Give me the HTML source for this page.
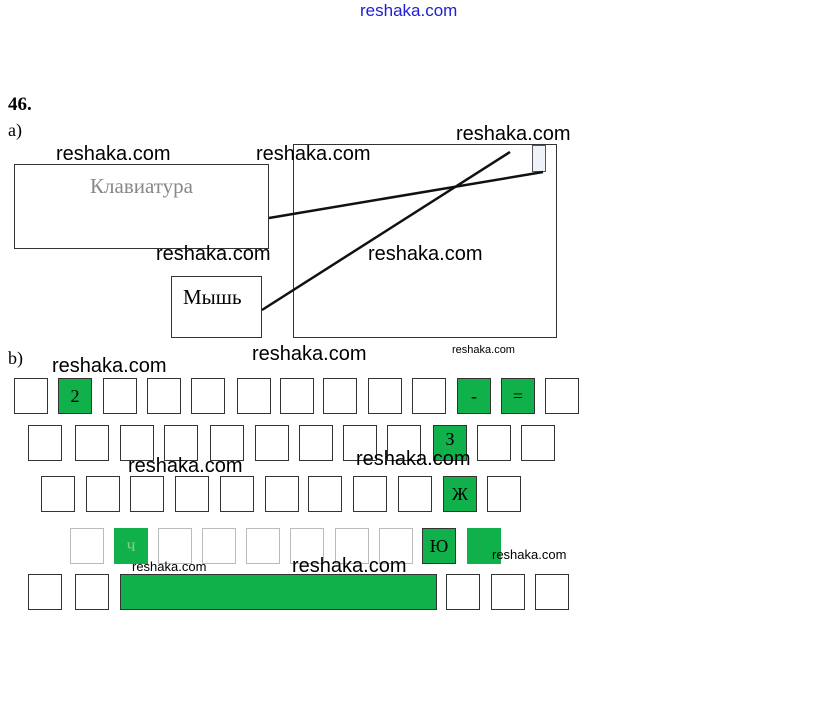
<!DOCTYPE html>
<html><head><meta charset="utf-8"><style>
body{margin:0;width:815px;height:708px;background:#fff;position:relative;overflow:hidden;font-family:"Liberation Serif",serif}
.a{position:absolute}
.k{position:absolute;width:34px;height:36px;border:1px solid #333;box-sizing:border-box;font-size:18px;text-align:center;line-height:34px}
.g{background:#10b04a}
.w{position:absolute;font-family:"Liberation Sans",sans-serif;font-size:20px;color:#000;white-space:nowrap}
.s{font-size:13px}
</style></head><body>
<div class="w" style="left:360px;top:1px;font-size:17px;color:#2020d0">reshaka.com</div>
<div class="a" style="left:8px;top:94px;font-weight:bold;font-size:19px">46.</div>
<div class="a" style="left:8px;top:120px;font-size:18px">a)</div>
<div class="a" style="left:14px;top:164px;width:255px;height:85px;border:1px solid #333;box-sizing:border-box;text-align:center;font-size:21px;color:#888;padding-top:9px">Клавиатура</div>
<div class="a" style="left:171px;top:276px;width:91px;height:62px;border:1px solid #333;box-sizing:border-box;font-size:21px;padding:8px 0 0 11px">Мышь</div>
<div class="a" style="left:293px;top:144px;width:264px;height:194px;border:1px solid #333;box-sizing:border-box"></div>
<div class="a" style="left:532px;top:145px;width:14px;height:27px;border:1px solid #555;box-sizing:border-box;background:#eef3fa"></div>
<svg class="a" style="left:0;top:0" width="815" height="708"><line x1="269" y1="218" x2="543" y2="172" stroke="#111" stroke-width="2.5"/><line x1="262" y1="310" x2="510" y2="152" stroke="#111" stroke-width="2.5"/></svg>
<div class="w" style="left:56px;top:143px">reshaka.com</div>
<div class="w" style="left:256px;top:143px">reshaka.com</div>
<div class="w" style="left:456px;top:123px">reshaka.com</div>
<div class="w" style="left:156px;top:243px">reshaka.com</div>
<div class="w" style="left:368px;top:243px">reshaka.com</div>
<div class="a" style="left:8px;top:348px;font-size:18px">b)</div>
<div class="w" style="left:252px;top:343px">reshaka.com</div>
<div class="w s" style="left:452px;top:344px;font-size:11px">reshaka.com</div>
<div class="w" style="left:52px;top:355px">reshaka.com</div>
<!-- row1 -->
<div class="k" style="left:14px;top:378px"></div><div class="k g" style="left:58px;top:378px">2</div><div class="k" style="left:103px;top:378px"></div><div class="k" style="left:147px;top:378px"></div><div class="k" style="left:191px;top:378px"></div><div class="k" style="left:237px;top:378px"></div><div class="k" style="left:280px;top:378px"></div><div class="k" style="left:323px;top:378px"></div><div class="k" style="left:368px;top:378px"></div><div class="k" style="left:412px;top:378px"></div><div class="k g" style="left:457px;top:378px">-</div><div class="k g" style="left:501px;top:378px">=</div><div class="k" style="left:545px;top:378px"></div>
<!-- row2 -->
<div class="k" style="left:28px;top:425px"></div><div class="k" style="left:75px;top:425px"></div><div class="k" style="left:120px;top:425px"></div><div class="k" style="left:164px;top:425px"></div><div class="k" style="left:210px;top:425px"></div><div class="k" style="left:255px;top:425px"></div><div class="k" style="left:299px;top:425px"></div><div class="k" style="left:343px;top:425px"></div><div class="k" style="left:387px;top:425px"></div><div class="k g" style="left:433px;top:425px;line-height:26px">З</div><div class="k" style="left:477px;top:425px"></div><div class="k" style="left:521px;top:425px"></div>
<!-- row3 -->
<div class="k" style="left:41px;top:476px"></div><div class="k" style="left:86px;top:476px"></div><div class="k" style="left:130px;top:476px"></div><div class="k" style="left:175px;top:476px"></div><div class="k" style="left:220px;top:476px"></div><div class="k" style="left:265px;top:476px"></div><div class="k" style="left:308px;top:476px"></div><div class="k" style="left:353px;top:476px"></div><div class="k" style="left:398px;top:476px"></div><div class="k g" style="left:443px;top:476px">Ж</div><div class="k" style="left:487px;top:476px"></div>
<!-- row4 -->
<div class="k" style="left:70px;top:528px;border-color:#bbb"></div><div class="k g" style="left:114px;top:528px;border:0;color:#8c8">ч</div><div class="k" style="left:158px;top:528px;border-color:#bbb"></div><div class="k" style="left:202px;top:528px;border-color:#bbb"></div><div class="k" style="left:246px;top:528px;border-color:#bbb"></div><div class="k" style="left:290px;top:528px;border-color:#bbb"></div><div class="k" style="left:335px;top:528px;border-color:#bbb"></div><div class="k" style="left:379px;top:528px;border-color:#bbb"></div><div class="k g" style="left:422px;top:528px">Ю</div><div class="k g" style="left:467px;top:528px;border:0"></div>
<!-- row5 -->
<div class="k" style="left:28px;top:574px"></div><div class="k" style="left:75px;top:574px"></div><div class="k g" style="left:120px;top:574px;width:317px"></div><div class="k" style="left:446px;top:574px"></div><div class="k" style="left:491px;top:574px"></div><div class="k" style="left:535px;top:574px"></div>
<div class="w" style="left:128px;top:455px">reshaka.com</div>
<div class="w" style="left:356px;top:448px">reshaka.com</div>
<div class="w s" style="left:492px;top:547px">reshaka.com</div>
<div class="w s" style="left:132px;top:559px">reshaka.com</div>
<div class="w" style="left:292px;top:555px">reshaka.com</div>
</body></html>
